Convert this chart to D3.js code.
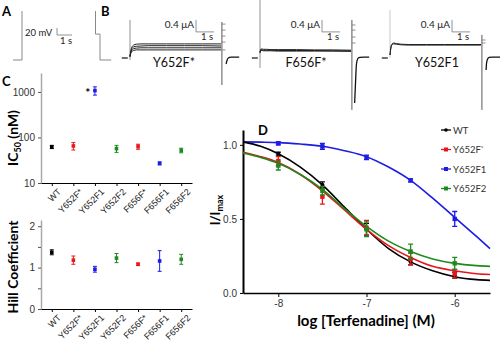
<!DOCTYPE html>
<html>
<head>
<meta charset="utf-8">
<script src="https://cdn.jsdelivr.net/npm/d3@7"></script>
<style>
  body { margin: 0; background: #fff; }
  svg { display: block; font-family: Lato, "Liberation Sans", sans-serif; }
</style>
</head>
<body>
<div id="chart"></div>
<script>
// ---- panel C data ----
var cats = ["WT", "Y652F*", "Y652F1", "Y652F2", "F656F*", "F656F1", "F656F2"];
var catColors = ["#000000", "#e8161c", "#1c1ce6", "#1e8a1e", "#e8161c", "#1c1ce6", "#1e8a1e"];
var ic50 = [62, 65, 1070, 57, 63, 27, 52];
var ic50Err = [5, 12, 220, 10, 8, 2, 6];
var hill = [1.37, 1.18, 0.96, 1.23, 1.08, 1.16, 1.2];
var hillErr = [0.06, 0.1, 0.07, 0.11, 0.03, 0.25, 0.12];
var icTicks = [10, 100, 1000];
var hillTicks = [0, 0.5, 1, 1.5, 2];

// ---- panel D data ----
var logConc = [-8, -7.5, -7, -6.5, -6];
var dNames = ["WT", "Y652F*", "Y652F1", "Y652F2"];
var dColors = ["#000000", "#e8161c", "#1c1ce6", "#1e8a1e"];
var wtMean = [0.94, 0.73, 0.43, 0.21, 0.12];
var wtErr = [0.01, 0.02, 0.04, 0.02, 0.02];
var y652fMean = [0.89, 0.65, 0.44, 0.23, 0.13];
var y652fErr = [0.03, 0.05, 0.05, 0.04, 0.03];
var y652f1Mean = [1.01, 0.99, 0.915, 0.76, 0.5];
var y652f1Err = [0.01, 0.02, 0.015, 0.01, 0.05];
var y652f2Mean = [0.86, 0.69, 0.43, 0.28, 0.2];
var y652f2Err = [0.03, 0.03, 0.05, 0.05, 0.04];
// fitted curves
var fitX = [-8.4, -8.2, -8, -7.75, -7.5, -7.25, -7, -6.75, -6.5, -6.25, -6, -5.75, -5.6];
var wtFit = [1.02, 0.99, 0.94, 0.85, 0.73, 0.58, 0.43, 0.30, 0.21, 0.15, 0.11, 0.09, 0.085];
var y652fFit = [0.95, 0.92, 0.88, 0.80, 0.69, 0.56, 0.43, 0.32, 0.24, 0.18, 0.15, 0.13, 0.125];
var y652f1Fit = [1.02, 1.018, 1.015, 1.005, 0.99, 0.96, 0.92, 0.85, 0.76, 0.64, 0.51, 0.38, 0.30];
var y652f2Fit = [0.945, 0.915, 0.875, 0.80, 0.70, 0.57, 0.45, 0.35, 0.28, 0.23, 0.20, 0.185, 0.18];
var dTicksX = [-8, -7, -6];
var dTicksY = [0, 0.5, 1];

// ---- panel A/B data (voltage protocol mV, currents uA, time s) ----
var protoA = [[-0.6, -80], [0, -80], [0, 60]];
var protoB = [[-0.3, 60], [-0.3, -6], [0, -6], [0, -80], [0.75, -80]];
var traceNames = ["Y652F*", "F656F*", "Y652F1"];
var stepT = [0, 0.05, 0.1, 0.2, 0.35, 0.6, 1, 2, 3, 4, 5];
var y652fSweeps = [
  [0.05, 0.25, 0.36, 0.43, 0.46, 0.47, 0.47, 0.47, 0.47, 0.47, 0.47],
  [0.05, 0.22, 0.31, 0.37, 0.39, 0.40, 0.41, 0.41, 0.41, 0.41, 0.40],
  [0.05, 0.2, 0.27, 0.31, 0.33, 0.34, 0.34, 0.34, 0.34, 0.34, 0.34],
  [0.05, 0.17, 0.22, 0.25, 0.27, 0.27, 0.27, 0.27, 0.27, 0.27, 0.27]
];
var f656fSweeps = [
  [0.2, 0.3, 0.3, 0.29, 0.29, 0.28, 0.28, 0.28, 0.27, 0.27, 0.26],
  [0.18, 0.27, 0.27, 0.26, 0.26, 0.26, 0.25, 0.25, 0.25, 0.24, 0.24],
  [0.16, 0.25, 0.25, 0.24, 0.24, 0.24, 0.23, 0.23, 0.23, 0.23, 0.22]
];
var y652f1Sweeps = [
  [0.1, 0.36, 0.46, 0.5, 0.48, 0.46, 0.45, 0.45, 0.45, 0.45, 0.45],
  [0.1, 0.33, 0.43, 0.47, 0.46, 0.44, 0.43, 0.43, 0.43, 0.43, 0.43]
];
var onSpikes = [[1.27, -0.07], [1.93, -0.33], [1.6, 0]];
var offSpikes = [[1.2, -0.9], [1.27, -1.73], [0.77, -1.73]];
var ladders = [[1.13, 0.93, 0.73, 0.53, 0.27], [1.1, 0.93, 0.7, 0.5], [0.6, 0.5]];
var tailT = [[0.28, 0.32, 0.4, 0.55, 0.75, 1.0], [0.2, 0.25, 0.3, 0.4, 0.5, 0.7, 1.0], [0.28, 0.3, 0.35, 0.45, 0.6, 0.8, 1.1]];
var tailI = [[-0.2, -0.1, 0.0, 0.03, 0.03, 0.03], [-1.5, -0.8, -0.2, 0.0, 0.02, 0.03, 0.03], [-0.4, -0.2, -0.05, 0.02, 0.03, 0.03, 0.03]];

var svg = d3.select("#chart").append("svg")
    .attr("width", 500)
    .attr("height", 340);

function letter(x, y, t) {
    svg.append("text").attr("x", x).attr("y", y).text(t)
        .style("font-size", "13px").style("font-weight", "bold");
}

// ================= Panel A =================
letter(2, 16, "A");
var tA = d3.scaleLinear().domain([0, 1]).range([22, 37]);
var vA = d3.scaleLinear().domain([-80, 60]).range([60, 11]);
var lineA = d3.line().x(function(d) { return tA(d[0]); }).y(function(d) { return vA(d[1]); });
svg.append("path").attr("d", lineA(protoA)).attr("fill", "none").attr("stroke", "#888").attr("stroke-width", 1);
svg.append("text").attr("x", 25).attr("y", 36).text("20 mV").style("font-size", "9.5px").attr("fill", "#222");
svg.append("path").attr("d", "M57,28V35H72").attr("fill", "none").attr("stroke", "#777").attr("stroke-width", 0.8);
svg.append("text").attr("x", 60).attr("y", 44).text("1 s").style("font-size", "9.5px").attr("fill", "#222");

// ================= Panel B =================
letter(101, 16, "B");
var tB = d3.scaleLinear().domain([0, 1]).range([100, 115]);
var lineB = d3.line().x(function(d) { return tB(d[0]); }).y(function(d) { return vA(d[1]); });
svg.append("path").attr("d", lineB(protoB)).attr("fill", "none").attr("stroke", "#888").attr("stroke-width", 1);

var traceX0 = [130, 260, 390];
var labelX = [174, 306, 437];
var scaleX = [196, 322, 452];
var allSweeps = [y652fSweeps, f656fSweeps, y652f1Sweeps];
var iScale = d3.scaleLinear().domain([0, 1]).range([58, 28]);

traceNames.forEach(function(name, k) {
    var tS = d3.scaleLinear().domain([0, 1]).range([traceX0[k], traceX0[k] + 18.2]);
    var g = svg.append("g");
    // baseline before step
    g.append("line").attr("x1", tS(-0.45)).attr("x2", tS(-0.12))
        .attr("y1", iScale(0)).attr("y2", iScale(0)).attr("stroke", "#111").attr("stroke-width", 1.2);
    // onset transient
    g.append("line").attr("x1", tS(0)).attr("x2", tS(0))
        .attr("y1", iScale(onSpikes[k][0])).attr("y2", iScale(onSpikes[k][1]))
        .attr("stroke", k == 2 ? "#bbb" : "#777").attr("stroke-width", 0.8);
    var ln = d3.line().curve(d3.curveMonotoneX)
        .x(function(d, i) { return tS(stepT[i]); })
        .y(function(d) { return iScale(d); });
    allSweeps[k].forEach(function(s) {
        g.append("path").attr("d", ln(s)).attr("fill", "none").attr("stroke", "#222").attr("stroke-width", 1);
    });
    // offset transient
    g.append("line").attr("x1", tS(5.05)).attr("x2", tS(5.05))
        .attr("y1", iScale(offSpikes[k][0])).attr("y2", iScale(offSpikes[k][1]))
        .attr("stroke", "#444").attr("stroke-width", 0.9);
    ladders[k].forEach(function(v) {
        g.append("line").attr("x1", tS(5.05)).attr("x2", tS(5.25))
            .attr("y1", iScale(v)).attr("y2", iScale(v)).attr("stroke", "#666").attr("stroke-width", 0.7);
    });
    // tail
    var tl = d3.line().curve(d3.curveMonotoneX)
        .x(function(d) { return tS(5 + d[0]); })
        .y(function(d) { return iScale(d[1]); });
    g.append("path").attr("d", tl(tailT[k].map(function(t, i) { return [t, tailI[k][i]]; })))
        .attr("fill", "none").attr("stroke", "#111").attr("stroke-width", 1.3);
    // scale bar
    var sx = scaleX[k];
    g.append("text").attr("x", sx - 2).attr("y", 28).attr("text-anchor", "end").text("0.4 \u03bcA")
        .style("font-size", "10px").attr("fill", "#222");
    g.append("path").attr("d", "M" + sx + "," + iScale(1.27) + "V" + iScale(0.87) + "H" + (sx + 18))
        .attr("fill", "none").attr("stroke", "#777").attr("stroke-width", 0.8);
    g.append("text").attr("x", sx + 5).attr("y", 40).text("1 s").style("font-size", "9.5px").attr("fill", "#222");
    g.append("text").attr("x", labelX[k]).attr("y", 67).attr("text-anchor", "middle").text(name)
        .style("font-size", "12.5px").attr("fill", "#111");
});

// ================= Panel C =================
letter(2, 86, "C");
var xC = d3.scalePoint().domain(cats).range([41, 192]).padding(0.5);
var yIC = d3.scaleLog().domain([10, 2600]).range([183, 73]);
var yH = d3.scaleLinear().domain([0, 2.15]).range([309, 220]);

function catAxis(y) {
    var ax = svg.append("g").attr("transform", "translate(0," + y + ")")
        .call(d3.axisBottom(xC).tickSize(3).tickSizeOuter(0));
    ax.select(".domain").attr("stroke", "#000");
    ax.selectAll("text")
        .attr("text-anchor", "end")
        .attr("transform", "translate(2,2) rotate(-45)")
        .attr("dy", "0.5em").attr("dx", "0")
        .style("font-size", "9px").attr("fill", "#222");
}
function leftAxis(scale, vals, fmt) {
    var ax = svg.append("g").attr("transform", "translate(41,0)")
        .call(d3.axisLeft(scale).tickValues(vals).tickFormat(fmt).tickSize(3).tickSizeOuter(0));
    ax.select(".domain").attr("stroke", "#aaa").attr("stroke-width", 1.5);
    ax.selectAll(".tick line").attr("stroke", "#555");
    ax.selectAll("text").style("font-size", "10px").attr("fill", "#333");
}
leftAxis(yIC, icTicks, d3.format("d"));
catAxis(183);
leftAxis(yH, hillTicks, function(d) { return d % 1 === 0 ? d : ""; });
catAxis(309);

function catPoints(scale, vals, errs) {
    var g = svg.append("g");
    cats.forEach(function(c, i) {
        var x = xC(c), col = catColors[i];
        var y0 = scale(vals[i] - errs[i]), y1 = scale(vals[i] + errs[i]);
        g.append("path").attr("d", "M" + x + "," + y0 + "V" + y1 + "M" + (x - 2) + "," + y0 + "H" + (x + 2) + "M" + (x - 2) + "," + y1 + "H" + (x + 2))
            .attr("stroke", col).attr("stroke-width", 1).attr("fill", "none");
        g.append("rect").attr("x", x - 1.8).attr("y", scale(vals[i]) - 1.8).attr("width", 3.6).attr("height", 3.6)
            .attr("fill", col);
    });
}
catPoints(yIC, ic50, ic50Err);
catPoints(yH, hill, hillErr);
svg.append("text").attr("x", xC("Y652F1") - 7).attr("y", yIC(ic50[2]) + 6).attr("text-anchor", "middle")
    .text("*").style("font-size", "12px").style("font-weight", "bold");

var icLab = svg.append("text").attr("transform", "translate(18,138) rotate(-90)").attr("text-anchor", "middle")
    .style("font-size", "14px").style("font-weight", "bold");
icLab.append("tspan").text("IC");
icLab.append("tspan").text("50").attr("dy", 3).style("font-size", "9px");
icLab.append("tspan").text(" (nM)").attr("dy", -3);
svg.append("text").attr("transform", "translate(18,267) rotate(-90)").attr("text-anchor", "middle")
    .style("font-size", "14px").style("font-weight", "bold").text("Hill Coefficient");

// ================= Panel D =================
letter(258, 135, "D");
var xD = d3.scaleLinear().domain([-8.4, -5.6]).range([243, 490]);
var yD = d3.scaleLinear().domain([0, 1.1]).range([293, 130]);

var axX = svg.append("g").attr("transform", "translate(0,293)")
    .call(d3.axisBottom(xD).tickValues(dTicksX).tickFormat(function(d) { return "-" + Math.abs(d); }).tickSize(4).tickSizeOuter(0));
axX.select(".domain").attr("stroke-width", 1.5);
axX.selectAll("text").style("font-size", "10px").attr("fill", "#333");
var axY = svg.append("g").attr("transform", "translate(243,0)")
    .call(d3.axisLeft(yD).tickValues(dTicksY).tickFormat(d3.format(".1f")).tickSize(3).tickSizeOuter(0));
axY.select(".domain").attr("stroke-width", 2);
axY.selectAll("text").style("font-size", "10px").attr("fill", "#333");

var dFits = [wtFit, y652fFit, y652f1Fit, y652f2Fit];
var dMeans = [wtMean, y652fMean, y652f1Mean, y652f2Mean];
var dErrs = [wtErr, y652fErr, y652f1Err, y652f2Err];
var fitLine = d3.line().curve(d3.curveMonotoneX)
    .x(function(d, i) { return xD(fitX[i]); })
    .y(function(d) { return yD(d); });
var drawOrder = [2, 0, 1, 3];
drawOrder.forEach(function(k) {
    svg.append("path").attr("d", fitLine(dFits[k])).attr("fill", "none")
        .attr("stroke", dColors[k]).attr("stroke-width", 1.6);
});
drawOrder.forEach(function(k) {
    var g = svg.append("g");
    logConc.forEach(function(c, i) {
        var x = xD(c), m = dMeans[k][i], e = dErrs[k][i];
        var y0 = yD(m - e), y1 = yD(m + e);
        g.append("path").attr("d", "M" + x + "," + y0 + "V" + y1 + "M" + (x - 2.5) + "," + y0 + "H" + (x + 2.5) + "M" + (x - 2.5) + "," + y1 + "H" + (x + 2.5))
            .attr("stroke", dColors[k]).attr("stroke-width", 1.3).attr("fill", "none");
        if (k === 0) {
            g.append("circle").attr("cx", x).attr("cy", yD(m)).attr("r", 2).attr("fill", dColors[k]);
        } else {
            g.append("rect").attr("x", x - 2.2).attr("y", yD(m) - 2.2).attr("width", 4.4).attr("height", 4.4).attr("fill", dColors[k]);
        }
    });
});

// legend
dNames.forEach(function(n, k) {
    var ly = 130 + k * 19.5;
    svg.append("line").attr("x1", 441).attr("x2", 451).attr("y1", ly).attr("y2", ly)
        .attr("stroke", dColors[k]).attr("stroke-width", 1.3);
    if (k === 0) svg.append("circle").attr("cx", 446).attr("cy", ly).attr("r", 1.8).attr("fill", dColors[k]);
    else svg.append("rect").attr("x", 444).attr("y", ly - 2).attr("width", 4).attr("height", 4).attr("fill", dColors[k]);
    var t = svg.append("text").attr("x", 453).attr("y", ly + 3.5).style("font-size", "9.5px").attr("fill", "#333");
    if (n.indexOf("*") > 0) {
        t.append("tspan").text(n.replace("*", ""));
        t.append("tspan").text("*").attr("dy", -3).style("font-size", "6.5px");
    } else {
        t.text(n);
    }
});

svg.append("text").attr("x", 366).attr("y", 326).attr("text-anchor", "middle")
    .style("font-size", "15px").style("font-weight", "bold").text("log [Terfenadine] (M)");
var dLab = svg.append("text").attr("transform", "translate(220,210) rotate(-90)").attr("text-anchor", "middle")
    .style("font-size", "13px").style("font-weight", "bold");
dLab.append("tspan").text("I/I");
dLab.append("tspan").text("max").attr("dy", 3).style("font-size", "9px");
</script>
</body>
</html>
